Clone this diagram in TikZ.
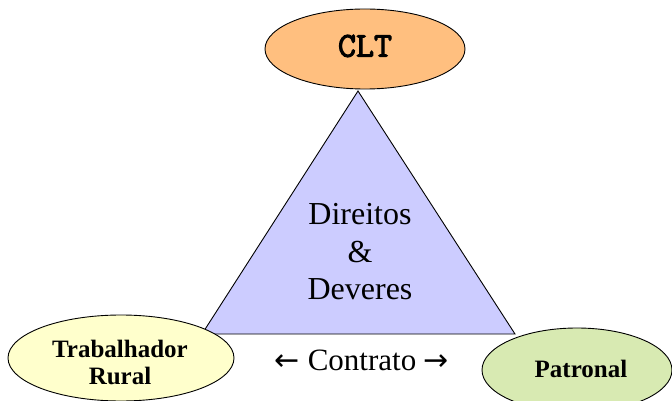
\documentclass[tikz,border=0pt]{standalone}
\usepackage{fontspec}
\setmainfont{Liberation Serif}
\newfontfamily\arrowfont{DejaVu Sans}
\newfontfamily\cltfont[AutoFakeBold=3]{Latin Modern Mono}
\usetikzlibrary{shapes.geometric}

\definecolor{cltorange}{RGB}{255,191,127}
\definecolor{trilavender}{RGB}{204,204,255}
\definecolor{ruralyellow}{RGB}{255,255,204}
\definecolor{patronalgreen}{RGB}{216,234,178}

\tikzset{
  party/.style={ellipse, draw=black, line width=0.9pt, inner sep=0pt, align=center},
  partytext/.style={font=\bfseries\fontsize{25}{27}\selectfont, align=center, inner sep=0pt},
}
\newcommand{\contractarrow}[1]{{\arrowfont\fontsize{30}{30}\selectfont #1}}

\begin{document}
\begin{tikzpicture}[x=1pt,y=-1pt]
  \useasboundingbox (0,0) rectangle (672,401);

  % central triangle
  \draw[fill=trilavender, line width=0.9pt, line join=miter]
    (358,91) -- (202,334) -- (515,334) -- cycle;
  \node[align=center, inner sep=0pt, font=\fontsize{32}{37.5}\selectfont]
    (rights) at (360,252) {Direitos\\\&\\Deveres};

  % the three parties
  \node[party, fill=cltorange, minimum width=200pt, minimum height=80pt]
    (clt) at (365,49) {};
  \node[font=\cltfont\bfseries\fontsize{35}{35}\selectfont, inner sep=0pt]
    (cltlabel) at (365,46) {CLT};

  \node[party, fill=ruralyellow, minimum width=226pt, minimum height=86pt]
    (rural) at (121,358) {};
  \node[partytext] (rurallabel) at (120,362) {Trabalhador\\Rural};

  \node[party, fill=patronalgreen, minimum width=190pt, minimum height=84pt]
    (patronal) at (577,370) {};
  \node[partytext] (patronallabel) at (581,369) {Patronal};

  % the contract between worker and employer
  \node[font=\fontsize{31}{33}\selectfont, inner sep=0pt]
    (contrato) at (362,360) {\contractarrow{←} Contrato \contractarrow{→}};
\end{tikzpicture}
\end{document}
